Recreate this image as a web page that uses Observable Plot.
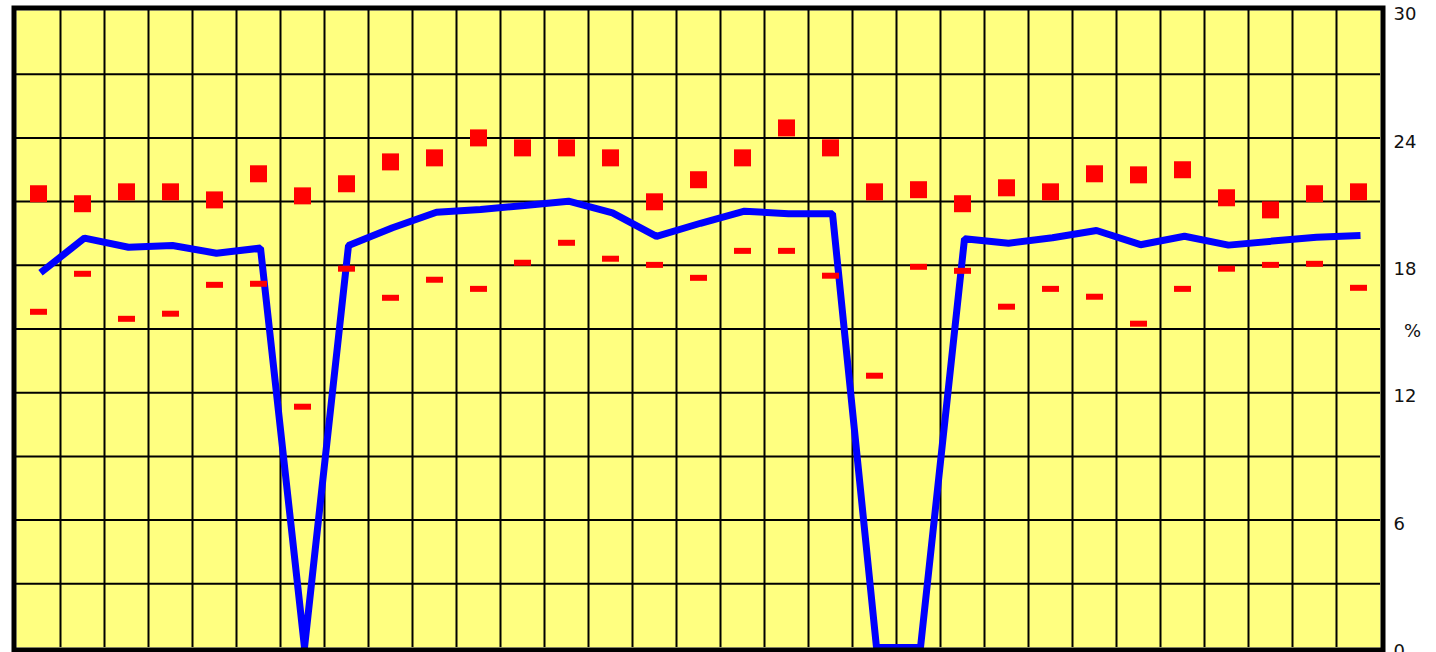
<!DOCTYPE html>
<html>
<head>
<meta charset="utf-8">
<script src="https://cdn.jsdelivr.net/npm/d3@7"></script>
<script src="https://cdn.jsdelivr.net/npm/@observablehq/plot@0.6"></script>
<style>
  html, body { margin: 0; padding: 0; background: white; }
  #chart svg { display: block; }
</style>
</head>
<body>
<div id="chart"></div>
<script>
// Categories (31 periods)
const categories = [1,2,3,4,5,6,7,8,9,10,11,12,13,14,15,16,17,18,19,20,21,22,23,24,25,26,27,28,29,30,31];

// Red squares (upper series), %
const squares = [21.37, 20.90, 21.46, 21.46, 21.08, 22.31, 21.27, 21.84,
                 22.87, 23.06, 24.00, 23.53, 23.53, 23.06, 20.99, 22.03,
                 23.06, 24.47, 23.53, 21.46, 21.56, 20.90, 21.65, 21.46,
                 22.31, 22.26, 22.50, 21.18, 20.61, 21.37, 21.46];

// Red dashes (lower series), %
const dashes = [15.81, 17.60, 15.48, 15.72, 17.08, 17.13, 11.34, 17.84,
                16.47, 17.32, 16.89, 18.12, 19.06, 18.31, 18.02, 17.41,
                18.68, 18.68, 17.51, 12.80, 17.93, 17.74, 16.05, 16.89,
                16.52, 15.25, 16.89, 17.84, 18.02, 18.07, 16.94];

// Blue line series, %
const blue = [17.65, 19.28, 18.85, 18.93, 18.57, 18.81, 0, 18.93,
              19.77, 20.50, 20.63, 20.82, 21.02, 20.47, 19.36, 19.98,
              20.55, 20.43, 20.43, 0, 0, 19.25, 19.04, 19.30,
              19.64, 18.97, 19.37, 18.95, 19.14, 19.32, 19.40];

// Axis ticks
const yTickLabels = [0, 6, 12, 18, 24, 30];
const yGridValues = [3, 6, 9, 12, 15, 18, 21, 24, 27];
const unitLabel = "%";
const unitPosition = 15;

const rows = categories.map((c, i) => ({c, sq: squares[i], dash: dashes[i], blue: blue[i]}));
const xGridValues = categories.slice(1).map(c => c - 0.5);

const dashSymbol = {
  draw(ctx) { ctx.rect(-8.5, -3, 17, 6); }
};
const squareSymbol = {
  draw(ctx) { ctx.rect(-8.5, -8.5, 17, 17); }
};

const chart = Plot.plot({
  width: 1436,
  height: 652,
  marginLeft: 16,
  marginRight: 56,
  marginTop: 10,
  marginBottom: 5,
  style: { background: "white", fontFamily: "DejaVu Sans, sans-serif", color: "black" },
  x: { domain: [0.5, categories.length + 0.5], axis: null },
  y: { domain: [0, 30], axis: null },
  marks: [
    Plot.frame({ fill: "#ffff80", stroke: null }),
    Plot.gridX(xGridValues, { stroke: "black", strokeOpacity: 1, strokeWidth: 2 }),
    Plot.gridY(yGridValues, { stroke: "black", strokeOpacity: 1, strokeWidth: 2 }),
    Plot.line(rows, { x: "c", y: "blue", stroke: "#0000ff", strokeWidth: 7, strokeLinecap: "butt", strokeLinejoin: "miter", dx: 2 }),
    Plot.dot(rows, { x: "c", y: "dash", symbol: dashSymbol, fill: "#ff0000" }),
    Plot.dot(rows, { x: "c", y: "sq", symbol: squareSymbol, fill: "#ff0000" }),
    Plot.frame({ stroke: "black", strokeWidth: 5, inset: -2.5 }),
    Plot.axisY(yTickLabels, { anchor: "right", tickSize: 0, tickPadding: 13, fontSize: 18, dy: 4, label: null, fill: "#111" }),
    Plot.text([unitLabel], { frameAnchor: "right", y: () => unitPosition, dx: 32, dy: 2, fontSize: 18, textAnchor: "middle", fill: "#111" })
  ]
});

document.getElementById("chart").appendChild(chart);
</script>
</body>
</html>
